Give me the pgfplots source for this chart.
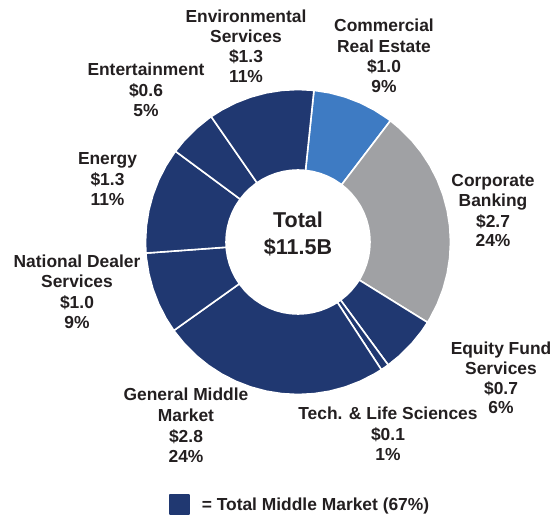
\documentclass[border=0pt]{standalone}
\usepackage{pgfplots}
\pgfplotsset{compat=1.18}
\usepackage{fontspec}
\setmainfont{Liberation Sans}

\definecolor{navyc}{RGB}{32,56,113}
\definecolor{crec}{RGB}{62,123,195}
\definecolor{grayc}{RGB}{160,161,164}
\definecolor{txt}{RGB}{35,31,32}

\newcommand{\lf}{\fontsize{17.4}{20}\selectfont\bfseries}
\newcommand{\lab}[3]{\node[anchor=base, font=\lf, text=txt, inner sep=0pt] at (axis cs:#1,#2) {#3};}

\begin{document}
\begin{tikzpicture}
\begin{axis}[
  scale only axis,
  width=553pt, height=517pt,
  xmin=-298, xmax=255,
  ymin=-275, ymax=242,
  hide axis,
  clip=false,
  slice/.style={data cs=polar, draw=white, line width=1.6pt, line join=round},
  legend style={draw=none, fill=none, inner sep=0pt, at={(axis cs:-129,-262.5)}, anchor=west, font=\lf, text=txt},
  legend image code/.code={\path (0pt,0pt) -- (29pt,0pt); \fill[navyc] (0pt,-9.5pt) rectangle (19pt,9.5pt);},
]
% frame the whole page
\path (axis cs:-298,-275) rectangle (axis cs:255,242);
% slices clockwise from 84 deg, values in $B: 1.0 2.7 0.7 0.1 2.8 1.0 1.3 0.6 1.3 (total 11.5)
% Commercial Real Estate
\addplot[slice, fill=crec, forget plot] coordinates {
(84,152.5) (78,152.5) (72,152.5) (66,152.5) (60,152.5) (54,152.5) (52.696,152.5)
(52.696,72) (54,72) (60,72) (66,72) (72,72) (78,72) (84,72)} -- cycle;
% Corporate Banking
\addplot[slice, fill=grayc, forget plot] coordinates {
(52.696,152.5) (48,152.5) (42,152.5) (36,152.5) (30,152.5) (24,152.5) (18,152.5) (12,152.5) (6,152.5) (0,152.5)
(-6,152.5) (-12,152.5) (-18,152.5) (-24,152.5) (-30,152.5) (-31.826,152.5)
(-31.826,72) (-30,72) (-24,72) (-18,72) (-12,72) (-6,72) (0,72) (6,72) (12,72) (18,72) (24,72) (30,72) (36,72) (42,72) (48,72) (52.696,72)} -- cycle;
% Equity Fund Services
\addplot[slice, fill=navyc, forget plot] coordinates {
(-31.826,152.5) (-36,152.5) (-42,152.5) (-48,152.5) (-53.739,152.5)
(-53.739,72) (-48,72) (-42,72) (-36,72) (-31.826,72)} -- cycle;
% Tech. & Life Sciences
\addplot[slice, fill=navyc, forget plot] coordinates {
(-53.739,152.5) (-55.3,152.5) (-56.870,152.5)
(-56.870,72) (-55.3,72) (-53.739,72)} -- cycle;
% General Middle Market
\addplot[slice, fill=navyc] coordinates {
(-56.870,152.5) (-60,152.5) (-66,152.5) (-72,152.5) (-78,152.5) (-84,152.5) (-90,152.5) (-96,152.5) (-102,152.5)
(-108,152.5) (-114,152.5) (-120,152.5) (-126,152.5) (-132,152.5) (-138,152.5) (-144,152.5) (-144.522,152.5)
(-144.522,72) (-144,72) (-138,72) (-132,72) (-126,72) (-120,72) (-114,72) (-108,72) (-102,72) (-96,72) (-90,72)
(-84,72) (-78,72) (-72,72) (-66,72) (-60,72) (-56.870,72)} -- cycle;
\addlegendentry{= Total Middle Market (67\%)}
% National Dealer Services
\addplot[slice, fill=navyc, forget plot] coordinates {
(-144.522,152.5) (-150,152.5) (-156,152.5) (-162,152.5) (-168,152.5) (-174,152.5) (-175.826,152.5)
(-175.826,72) (-174,72) (-168,72) (-162,72) (-156,72) (-150,72) (-144.522,72)} -- cycle;
% Energy
\addplot[slice, fill=navyc, forget plot] coordinates {
(-175.826,152.5) (-180,152.5) (-186,152.5) (-192,152.5) (-198,152.5) (-204,152.5) (-210,152.5) (-216,152.5) (-216.522,152.5)
(-216.522,72) (-216,72) (-210,72) (-204,72) (-198,72) (-192,72) (-186,72) (-180,72) (-175.826,72)} -- cycle;
% Entertainment
\addplot[slice, fill=navyc, forget plot] coordinates {
(-216.522,152.5) (-222,152.5) (-228,152.5) (-234,152.5) (-235.304,152.5)
(-235.304,72) (-234,72) (-228,72) (-222,72) (-216.522,72)} -- cycle;
% Environmental Services
\addplot[slice, fill=navyc, forget plot] coordinates {
(-235.304,152.5) (-240,152.5) (-246,152.5) (-252,152.5) (-258,152.5) (-264,152.5) (-270,152.5) (-276,152.5)
(-276,72) (-270,72) (-264,72) (-258,72) (-252,72) (-246,72) (-240,72) (-235.304,72)} -- cycle;

% labels
\lab{-52}{219}{Environmental}
\lab{-52}{199}{Services}
\lab{-52}{179}{\$1.3}
\lab{-52}{159}{11\%}

\lab{86}{210}{Commercial}
\lab{86}{189}{Real Estate}
\lab{86}{169}{\$1.0}
\lab{86}{149}{9\%}

\lab{-152}{166}{Entertainment}
\lab{-152}{145}{\$0.6}
\lab{-152}{125}{5\%}

\lab{-190.5}{77}{Energy}
\lab{-190.5}{56}{\$1.3}
\lab{-190.5}{36}{11\%}

\lab{-221}{-25}{National Dealer}
\lab{-221}{-45}{Services}
\lab{-221}{-66}{\$1.0}
\lab{-221}{-86}{9\%}

\lab{195}{55}{Corporate}
\lab{195}{35}{Banking}
\lab{195}{14}{\$2.7}
\lab{195}{-5}{24\%}

\lab{-112}{-158}{General Middle}
\lab{-112}{-179}{Market}
\lab{-112}{-200}{\$2.8}
\lab{-112}{-220}{24\%}

\lab{203}{-112}{Equity Fund}
\lab{203}{-132}{Services}
\lab{203}{-152}{\$0.7}
\lab{203}{-171}{6\%}

\lab{90}{-177}{Tech. \& Life Sciences}
\lab{90}{-198}{\$0.1}
\lab{90}{-218}{1\%}

\node[anchor=base, font=\fontsize{21.5}{26}\selectfont\bfseries, text=txt, inner sep=0pt] at (axis cs:0,14) {Total};
\node[anchor=base, font=\fontsize{21.5}{26}\selectfont\bfseries, text=txt, inner sep=0pt] at (axis cs:0,-13) {\$11.5B};
\end{axis}
\end{tikzpicture}
\end{document}
